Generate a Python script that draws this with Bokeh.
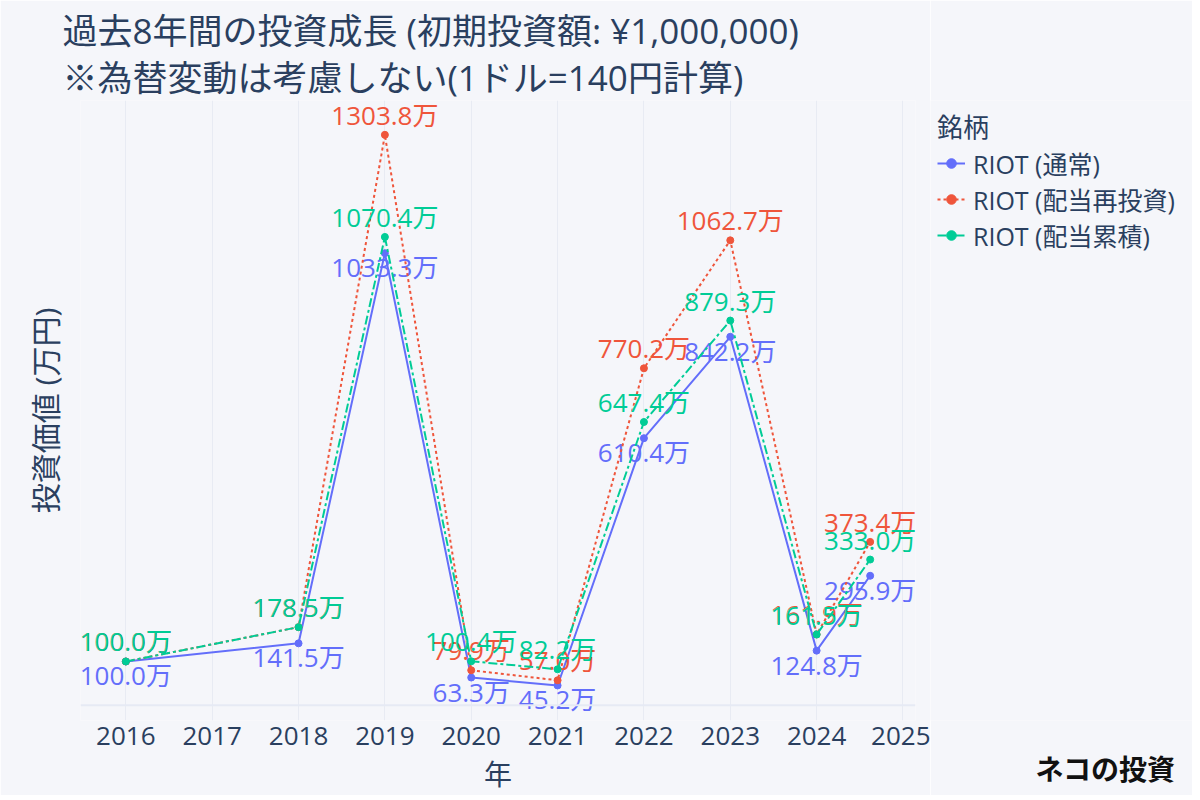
from bokeh.plotting import figure
from bokeh.models import Legend, LegendItem, FixedTicker, Range1d, Span, ColumnDataSource, Title, LinearAxis
from bokeh.layouts import row
from bokeh.embed import file_html
from bokeh.resources import INLINE
from bokeh.core.properties import value

# ---- data ----
years = [2016, 2018, 2019, 2020, 2021, 2022, 2023, 2024, 2024.62]
normal = [100.0, 141.5, 1033.3, 63.3, 45.2, 610.4, 842.2, 124.8, 295.9]
reinvest = [100.0, 178.5, 1303.8, 79.9, 57.0, 770.2, 1062.7, 161.9, 373.4]
accum = [100.0, 178.5, 1070.4, 100.4, 82.2, 647.4, 879.3, 161.5, 333.0]
series_names = ["RIOT (通常)", "RIOT (配当再投資)", "RIOT (配当累積)"]
tick_years = list(range(2016, 2026))
tick_labels = [str(y) for y in tick_years]
title_lines = ["過去8年間の投資成長 (初期投資額: ¥1,000,000)", "※為替変動は考慮しない(1ドル=140円計算)"]

FONT = "Open Sans, Noto Sans CJK JP"
TXT = "#2a3f5f"
BG = "#f5f6fa"
colors = ["#636efa", "#EF553B", "#00cc96"]
dashes = ["solid", "3 3", "9 3 3 3"]
offsets = [14, -20, -20]
series_values = [normal, reinvest, accum]

H = 795

# ---------------- main chart ----------------
p = figure(width=930, height=H, output_backend="svg", toolbar_location=None,
           x_range=Range1d(2015.475, 2025.145), y_range=Range1d(-34.9, 1382.3),
           min_border_left=80, min_border_right=15, min_border_top=100, min_border_bottom=H - 720)
p.background_fill_color = BG
p.border_fill_color = BG
p.outline_line_color = None

p.xaxis.ticker = FixedTicker(ticks=tick_years)
p.xaxis.major_label_overrides = {y: l for y, l in zip(tick_years, tick_labels)}
p.xaxis.axis_line_color = None
p.xaxis.major_tick_line_color = None
p.xaxis.minor_tick_line_color = None
p.xaxis.major_tick_out = 0
p.xaxis.major_label_text_font = FONT
p.xaxis.major_label_text_font_size = "26px"
p.xaxis.major_label_text_color = TXT
p.xaxis.major_label_standoff = 6
p.xaxis.axis_label = "年"
p.xaxis.axis_label_text_font = FONT
p.xaxis.axis_label_text_font_size = "28px"
p.xaxis.axis_label_text_font_style = "normal"
p.xaxis.axis_label_text_color = TXT
p.xaxis.axis_label_standoff = 7

p.yaxis.ticker = FixedTicker(ticks=[])
p.yaxis.axis_line_color = None
p.yaxis.major_tick_line_color = None
p.yaxis.minor_tick_line_color = None
p.yaxis.major_label_text_font_size = "0px"
p.yaxis.axis_label = "投資価値 (万円)"
p.yaxis.axis_label_text_font = FONT
p.yaxis.axis_label_text_font_size = "30px"
p.yaxis.axis_label_text_font_style = "normal"
p.yaxis.axis_label_text_color = TXT
p.yaxis.axis_label_standoff = 15

p.xgrid.ticker = FixedTicker(ticks=tick_years)
p.xgrid.grid_line_color = "#e8ebf3"
p.xgrid.grid_line_width = 1
p.ygrid.grid_line_color = None
p.add_layout(Span(location=0, dimension="width", line_color="#e6eaf4", line_width=2))

for name, vals, c, d, off in zip(series_names, series_values, colors, dashes, offsets):
    src = ColumnDataSource(dict(x=years, y=vals, t=[f"{v:.1f}万" for v in vals]))
    p.line("x", "y", source=src, line_color=c, line_width=2, line_dash=d)
    p.scatter("x", "y", source=src, size=7, fill_color=c, line_color=c)
    p.text("x", "y", text="t", source=src, text_color=c, text_font=value(FONT),
           text_font_size="26px", text_align="center", text_baseline="middle", y_offset=off)

p.add_layout(Title(text="\n".join(title_lines), align="left", offset=-18,
                   standoff=0, text_font=FONT, text_font_size="35px", text_color=TXT,
                   text_font_style="normal"), "above")

# ---------------- legend / watermark panel ----------------
q = figure(width=262, height=H, output_backend="svg", toolbar_location=None,
           x_range=Range1d(0, 1), y_range=Range1d(0, 1),
           x_axis_location=None, y_axis_location=None,
           min_border_left=0, min_border_right=0, min_border_top=100, min_border_bottom=0)
q.background_fill_color = BG
q.border_fill_color = BG
q.outline_line_color = None
q.grid.visible = False

items = []
for name, vals, c, d in zip(series_names, series_values, colors, dashes):
    # legend-only renderers: the series lie outside this panel's 0..1 ranges
    r1 = q.line(x=years, y=vals, line_color=c, line_width=2, line_dash=d)
    r2 = q.scatter(x=years, y=vals, size=7, fill_color=c, line_color=c)
    items.append(LegendItem(label=name, renderers=[r1, r2]))

legend = Legend(items=items, title="銘柄", location="top_left",
                title_text_font=FONT, title_text_font_size="26px", title_text_color=TXT,
                title_text_font_style="normal", title_standoff=0,
                label_text_font=FONT, label_text_font_size="25px", label_text_color=TXT,
                glyph_width=28, glyph_height=24, label_height=24, spacing=0,
                label_standoff=8, padding=7, margin=0,
                background_fill_alpha=0, border_line_alpha=0)
q.add_layout(legend)

spacer_axis = LinearAxis(ticker=FixedTicker(ticks=[]), axis_line_color=None,
                         major_tick_line_color=None, minor_tick_line_color=None,
                         major_tick_out=0, major_tick_in=0, major_label_standoff=0,
                         major_label_text_font_size="0px",
                         axis_label=" ", axis_label_text_font_size="16px", axis_label_standoff=7)
q.add_layout(spacer_axis, "below")
q.add_layout(Title(text="ネコの投資", align="left", offset=105, standoff=0,
                   vertical_align="top", text_font="Noto Sans CJK JP", text_font_style="bold",
                   text_font_size="28px", text_color="#111111"), "below")

open("out.html", "w").write(file_html(row(p, q), INLINE))
